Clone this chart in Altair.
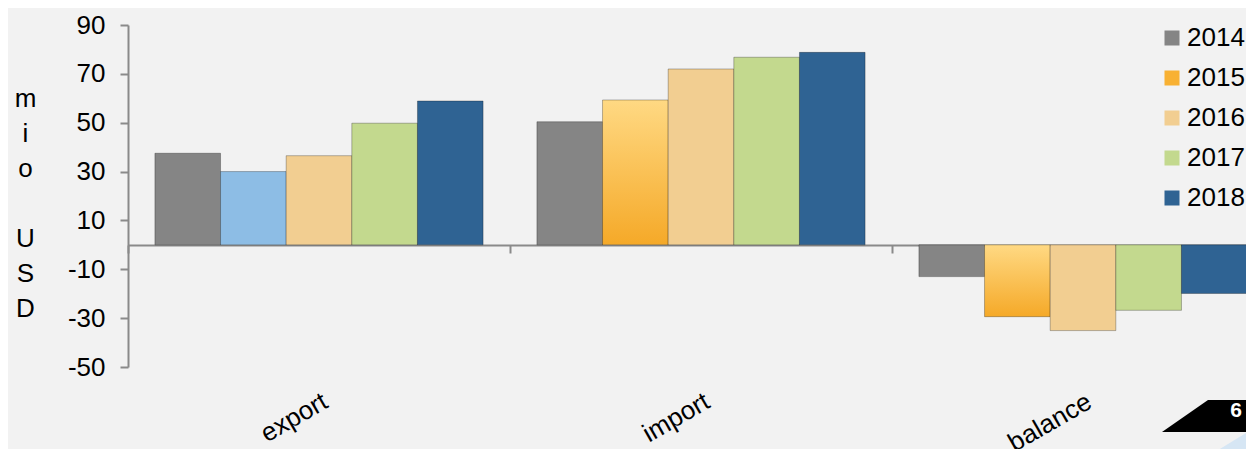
import altair as alt
import pandas as pd

categories = ["export", "import", "balance"]
years = ["2014", "2015", "2016", "2017", "2018"]
export_vals = [37.5, 30.0, 36.5, 49.8, 58.9]
import_vals = [50.4, 59.3, 72.0, 76.8, 78.8]
balance_vals = [-13.0, -29.4, -35.1, -26.8, -19.9]
year_colors = ["#858585", "#F8B133", "#F2CE91", "#C3D98E", "#2F6393"]
export_2015_color = "#8DBDE5"
y_ticks = [-50, -30, -10, 10, 30, 50, 70, 90]
y_title = ["m", "i", "o", "\u200b", "U", "S", "D"]
slide_number = ["6"]

FONT = "Liberation Sans"
FS = 26

rows = []
for cat, vals in zip(categories, [export_vals, import_vals, balance_vals]):
    for yr, v in zip(years, vals):
        rows.append({"category": cat, "year": yr, "value": v})
df = pd.DataFrame(rows)

x_scale = alt.Scale(domain=categories, range=[0, 1146], paddingInner=0, paddingOuter=0)

orange_gradient = {
    "gradient": "linear", "x1": 0, "y1": 0, "x2": 0, "y2": 1,
    "stops": [{"offset": 0, "color": "#FFD983"}, {"offset": 1, "color": "#F5A928"}],
}

color = alt.Color(
    "year:N",
    scale=alt.Scale(domain=years, range=year_colors),
    legend=alt.Legend(
        title=None, orient="none", legendX=1031, legendY=0, padding=0,
        symbolType="square", symbolSize=225, symbolStrokeWidth=0,
        labelFontSize=FS, labelFont=FONT, labelColor="#000000",
        labelOffset=2, rowPadding=14,
    ),
    condition=[
        {"test": "datum.category === 'export' && datum.year === '2015'", "value": export_2015_color},
        {"test": "datum.year === '2015'", "value": orange_gradient},
    ],
)

bars = alt.Chart(df).mark_bar(stroke="rgba(0,0,0,0.28)", strokeWidth=1).encode(
    x=alt.X(
        "category:N", scale=x_scale,
        axis=alt.Axis(
            orient="bottom", offset=-122, labels=False, title=None,
            tickBand="extent", domainColor="#8A8A8A", domainWidth=2,
            tickColor="#8A8A8A", tickWidth=2, tickSize=8,
        ),
    ),
    xOffset=alt.XOffset("year:N", scale=alt.Scale(domain=years, paddingInner=0, paddingOuter=0.41)),
    y=alt.Y(
        "value:Q",
        scale=alt.Scale(domain=[-50, 90], nice=False, zero=True),
        axis=alt.Axis(
            values=y_ticks, grid=False, title=y_title, titleAngle=0,
            titleX=-103, titleY=73, titleAlign="center", titleBaseline="middle",
            titleLineHeight=35, titleFontSize=FS, titleFontWeight="normal",
            titleFont=FONT, titleColor="#000000",
            labelFontSize=FS, labelFont=FONT, labelColor="#000000", labelPadding=15,
            labelExpr="datum.value < 0 ? '-' + abs(datum.value) : '' + datum.value",
            domainColor="#8A8A8A", domainWidth=2, tickColor="#8A8A8A",
            tickWidth=2, tickSize=8,
        ),
    ),
    color=color,
)

label_axis = alt.Chart(pd.DataFrame({"category": categories})).mark_point(opacity=0).encode(
    x=alt.X(
        "category:N", scale=x_scale,
        axis=alt.Axis(
            orient="bottom", domain=False, ticks=False, title=None,
            labelAngle=330, labelAlign="right", labelBaseline="top",
            labelPadding=21, labelFontSize=FS, labelFont=FONT, labelColor="#000000",
        ),
    ),
    y=alt.value(0),
)

deco_df = pd.DataFrame({"t": slide_number})
blue_tri = alt.Chart(deco_df).mark_point(
    shape="M-1,0.615 L1,-0.615 L1,0.615 Z", filled=True, fill="#D6E6F4",
    strokeWidth=0, opacity=1,
).encode(x=alt.value(1119.5), y=alt.value(407), size=alt.value(4225))

black_trap = alt.Chart(deco_df).mark_point(
    shape="M-1,0.281 L-0.193,-0.281 L1,-0.281 L1,0.281 Z", filled=True, fill="#000000",
    strokeWidth=0, opacity=1,
).encode(x=alt.value(1091), y=alt.value(391), size=alt.value(12996))

num_text = alt.Chart(deco_df).mark_text(
    color="#FFFFFF", fontWeight="bold", fontSize=21, font=FONT,
    align="center", baseline="alphabetic",
).encode(x=alt.value(1108), y=alt.value(392), text="t:N")

chart = alt.layer(bars, label_axis, blue_tri, black_trap, num_text).resolve_axis(
    x="independent"
).properties(
    width=1118, height=342,
    autosize=alt.AutoSizeParams(type="none"),
    padding={"left": 120, "top": 17, "right": 0, "bottom": 82},
).configure(
    background="#F2F2F2", font=FONT,
).configure_view(stroke=None)

chart.save("out.html", embed_options={"renderer": "svg", "actions": False})
